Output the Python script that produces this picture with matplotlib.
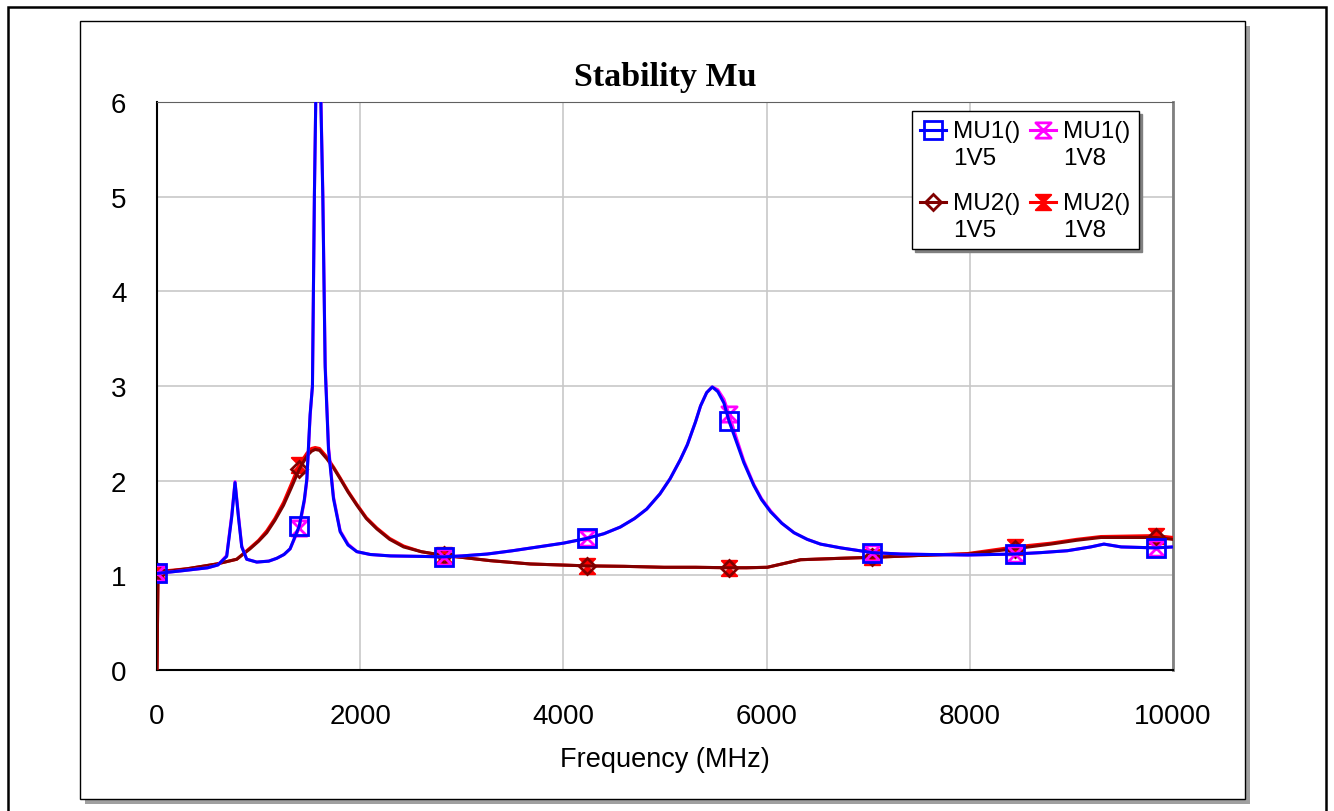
import matplotlib.pyplot as plt
from matplotlib.path import Path
from matplotlib.patches import Rectangle

# sweep points (MHz) and stability factors
f_mu1 = [0, 260, 500, 600, 686, 736, 768, 801, 834, 883, 982, 1100, 1179, 1250, 1310,
         1400, 1450, 1475, 1507, 1530, 1549, 1563, 1588, 1612, 1632, 1655, 1688, 1737,
         1803, 1880, 1967, 2100, 2300, 2600, 2820, 3000, 3250, 3500, 3750, 4000, 4230,
         4400, 4560, 4700, 4820, 4950, 5050, 5150, 5220, 5300, 5350, 5410, 5465, 5520,
         5580, 5630, 5700, 5776, 5874, 5950, 6040, 6150, 6270, 6400, 6530, 6730, 7040,
         7320, 7600, 7980, 8440, 8700, 8960, 9190, 9320, 9490, 9830, 10000]
mu1_1v5 = [1.02, 1.05, 1.08, 1.11, 1.20, 1.62, 1.98, 1.62, 1.30, 1.17, 1.14, 1.15, 1.18,
           1.22, 1.28, 1.52, 1.80, 2.02, 2.70, 3.00, 5.00, 6.05, 12.0, 6.05, 5.00, 3.20,
           2.33, 1.81, 1.46, 1.32, 1.25, 1.22, 1.205, 1.20, 1.195, 1.205, 1.225, 1.26,
           1.30, 1.34, 1.39, 1.44, 1.51, 1.60, 1.70, 1.86, 2.02, 2.22, 2.38, 2.62, 2.79,
           2.93, 2.99, 2.94, 2.82, 2.63, 2.42, 2.19, 1.95, 1.80, 1.67, 1.55, 1.45, 1.38,
           1.33, 1.29, 1.24, 1.225, 1.22, 1.215, 1.225, 1.24, 1.26, 1.30, 1.33, 1.30,
           1.29, 1.30]
mu1_1v8 = [1.02, 1.05, 1.08, 1.11, 1.21, 1.64, 1.99, 1.64, 1.31, 1.17, 1.14, 1.15, 1.18,
           1.22, 1.28, 1.50, 1.78, 2.00, 2.68, 3.00, 5.00, 6.05, 12.5, 6.10, 5.05, 3.25,
           2.36, 1.83, 1.47, 1.33, 1.25, 1.22, 1.205, 1.20, 1.195, 1.205, 1.225, 1.26,
           1.30, 1.34, 1.39, 1.44, 1.51, 1.60, 1.70, 1.86, 2.02, 2.22, 2.38, 2.62, 2.79,
           2.93, 2.99, 2.96, 2.86, 2.70, 2.46, 2.21, 1.96, 1.81, 1.68, 1.55, 1.45, 1.38,
           1.33, 1.29, 1.24, 1.225, 1.22, 1.215, 1.225, 1.24, 1.26, 1.30, 1.33, 1.30,
           1.29, 1.30]

f_mu2 = [0, 10, 300, 588, 785, 916, 1000, 1080, 1160, 1245, 1320, 1400, 1475, 1520, 1557,
         1600, 1672, 1740, 1803, 1880, 1967, 2060, 2164, 2290, 2427, 2600, 2820, 3000,
         3281, 3675, 4230, 4600, 4988, 5300, 5630, 5800, 6007, 6150, 6335, 6729, 7040,
         7500, 7977, 8440, 8798, 9050, 9291, 9830, 10000]
mu2_1v5 = [0, 1.03, 1.07, 1.12, 1.17, 1.28, 1.36, 1.45, 1.58, 1.74, 1.92, 2.12, 2.26, 2.31,
           2.33, 2.32, 2.23, 2.13, 2.02, 1.88, 1.74, 1.60, 1.49, 1.38, 1.30, 1.25, 1.21,
           1.19, 1.155, 1.12, 1.10, 1.095, 1.085, 1.085, 1.08, 1.08, 1.085, 1.12, 1.165,
           1.18, 1.19, 1.21, 1.225, 1.28, 1.33, 1.37, 1.40, 1.40, 1.38]
mu2_1v8 = [0, 1.04, 1.07, 1.12, 1.17, 1.29, 1.37, 1.47, 1.60, 1.77, 1.96, 2.17, 2.29, 2.34,
           2.35, 2.34, 2.25, 2.14, 2.03, 1.89, 1.75, 1.61, 1.50, 1.39, 1.31, 1.25, 1.21,
           1.19, 1.155, 1.12, 1.10, 1.095, 1.085, 1.085, 1.08, 1.08, 1.085, 1.12, 1.165,
           1.18, 1.19, 1.21, 1.23, 1.30, 1.34, 1.38, 1.41, 1.42, 1.40]

marker_f = [0, 1400, 2820, 4230, 5630, 7040, 8440, 9830]
mu2_marker_f = [10, 1400, 2820, 4230, 5630, 7040, 8440, 9830]

x_ticks = [0, 2000, 4000, 6000, 8000, 10000]
y_ticks = [0, 1, 2, 3, 4, 5, 6]

hourglass = Path([(-1, 1), (1, 1), (-1, -1), (1, -1), (-1, 1)],
                 [Path.MOVETO, Path.LINETO, Path.LINETO, Path.LINETO, Path.CLOSEPOLY])

fig = plt.figure(figsize=(13.34, 8.12), dpi=100)

# outer frame and shadowed panel, kept behind the axes
fig.patches.append(Rectangle((8 / 1334, -0.2), 1318 / 1334, 1.2 - 8 / 812, transform=fig.transFigure,
                             fill=False, edgecolor="black", linewidth=1.8, zorder=-3))
fig.patches.append(Rectangle((85 / 1334, 1 - 805 / 812), 1165 / 1334, 778 / 812, transform=fig.transFigure,
                             facecolor="#a0a0a0", edgecolor="none", zorder=-2))
fig.patches.append(Rectangle((80 / 1334, 1 - 800 / 812), 1165 / 1334, 778 / 812, transform=fig.transFigure,
                             facecolor="white", edgecolor="black", linewidth=1.0, zorder=-1))

ax = fig.add_axes([157 / 1334, 1 - 671 / 812, 1016 / 1334, 568 / 812])
ax.set_facecolor("none")


def idx(freqs, marks):
    return [freqs.index(m) for m in marks]


ax.plot(f_mu2, mu2_1v8, color="#ff0000", lw=2.2, marker=hourglass, ms=11, mew=1.5,
        mfc="#ff0000", mec="#ff0000", markevery=idx(f_mu2, mu2_marker_f), label="MU2()\n1V8", zorder=3)
ax.plot(f_mu2, mu2_1v5, color="#800000", lw=2.2, marker="D", ms=8.5, mew=2,
        mfc="none", mec="#800000", markevery=idx(f_mu2, mu2_marker_f), label="MU2()\n1V5", zorder=4)
ax.plot(f_mu1, mu1_1v8, color="#ff00ff", lw=2.2, marker=hourglass, ms=11, mew=2,
        mfc="none", mec="#ff00ff", markevery=idx(f_mu1, marker_f), label="MU1()\n1V8", zorder=5)
ax.plot(f_mu1, mu1_1v5, color="#0000ff", lw=2.2, marker="s", ms=13, mew=2,
        mfc="none", mec="#0000ff", markevery=idx(f_mu1, marker_f), label="MU1()\n1V5", zorder=6)

ax.set_xlim(0, 10000)
ax.set_ylim(0, 6)
ax.set_xticks(x_ticks)
ax.set_yticks(y_ticks)
ax.tick_params(length=0, labelsize=20)
ax.tick_params(axis="x", pad=24)
ax.tick_params(axis="y", pad=22)
for lab in ax.get_xticklabels() + ax.get_yticklabels():
    lab.set_fontfamily("Liberation Sans")
ax.grid(color="#c8c8c8", linewidth=1.2)
ax.set_axisbelow(True)
for side in ["left", "bottom"]:
    ax.spines[side].set_color("black")
    ax.spines[side].set_linewidth(1.5)
ax.spines["top"].set_color("#606060")
ax.spines["right"].set_color("#808080")
ax.spines["right"].set_linewidth(2)

ax.set_xlabel("Frequency (MHz)", fontsize=19.5, family="Liberation Sans", labelpad=12)
ax.set_title("Stability Mu", fontsize=24.5, fontweight="bold", family="Liberation Serif", pad=12)

# two entries per row: MU1 on top, MU2 below
handles, labels = ax.get_legend_handles_labels()
order = [3, 1, 2, 0]
leg = ax.legend([handles[i] for i in order], [labels[i] for i in order], ncol=2,
                loc="upper left", bbox_to_anchor=(0.743, 0.984), borderaxespad=0,
                fancybox=False, shadow={"color": "#808080", "alpha": 1}, framealpha=1,
                edgecolor="black", prop={"family": "Liberation Sans", "size": 17.5},
                handlelength=1.05, handleheight=1.1, handletextpad=0.3, columnspacing=0.4,
                labelspacing=0.95, borderpad=0.35)
leg.get_frame().set_linewidth(1.0)
for col in leg._legend_handle_box.get_children():
    for entry in col.get_children():
        entry.align = "top"
for txt in leg.get_texts():
    txt.set_linespacing(1.3)
    txt.set_multialignment("left")

fig.savefig("out.png", dpi=100)
